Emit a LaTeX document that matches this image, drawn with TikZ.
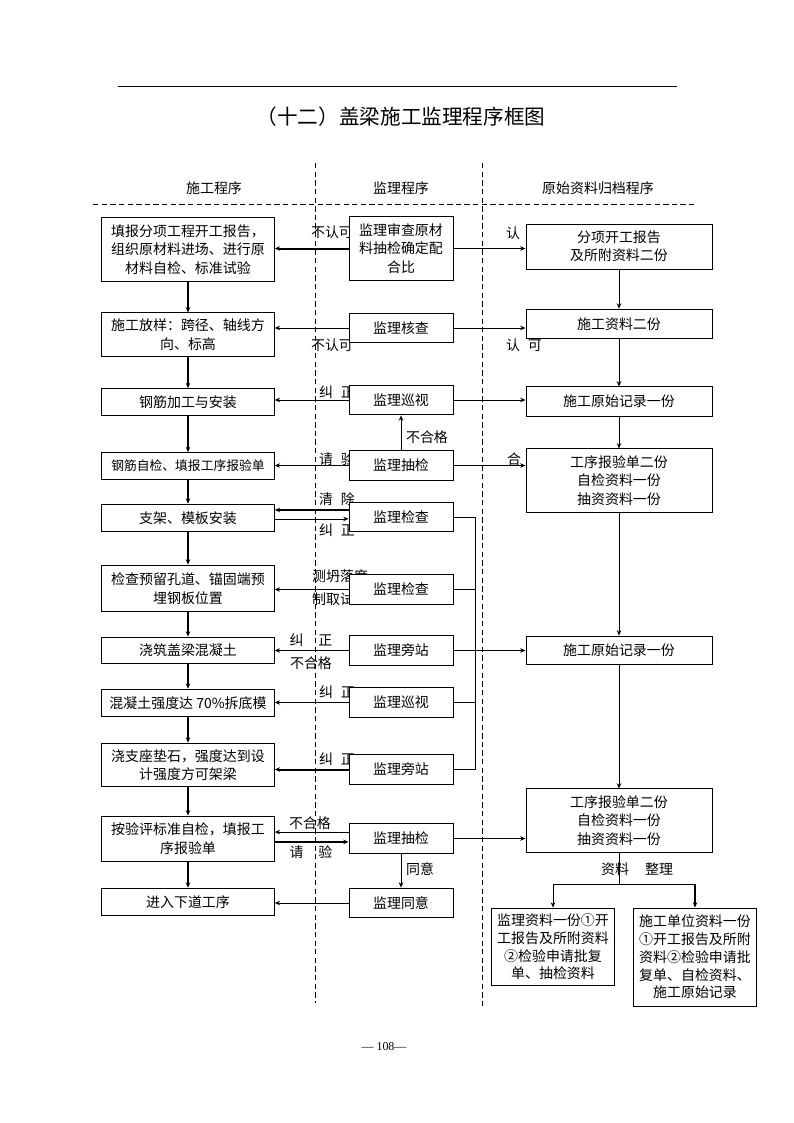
\documentclass[tikz,border=0pt]{standalone}
\usepackage{fontspec}
\setmainfont{Noto Sans CJK SC}
\newfontfamily\pagefont{Liberation Serif}
\usetikzlibrary{arrows.meta,backgrounds}

\begin{document}
\begin{tikzpicture}
  [x=0.02645cm,y=-0.02645cm,
   every node/.style={font=\fontsize{10.5}{13.8}\selectfont,inner sep=1pt},
   stepbox/.style={draw,fill=white,align=center,line width=.7pt,minimum width=4.565cm},
   jlbox/.style={draw,fill=white,align=center,line width=.7pt,minimum width=2.75cm},
   dabox/.style={draw,fill=white,align=center,line width=.7pt,minimum width=4.92cm},
   lbl/.style={inner sep=0pt},
   arr/.style={-{Stealth[length=4pt,width=3.4pt]},line width=.6pt},
   tarr/.style={arr,line width=1.5pt},
   colline/.style={line width=.6pt,dash pattern=on 4pt off 2.5pt}]
  \useasboundingbox (0,0) rectangle (794,1123);

  \draw[line width=.7pt] (118,86) -- (677,86);
  \node (title) at (401,117) [font=\fontsize{15.5}{18}\selectfont] {（十二）盖梁施工监理程序框图};
  \node (h1) at (214,188) {施工程序};
  \node (h2) at (401,188) {监理程序};
  \node (h3) at (598,188) {原始资料归档程序};

  % 施工程序
  \node[stepbox,minimum height=1.67cm] (s1) at (188,249.5) {填报分项工程开工报告，\\组织原材料进场、进行原\\材料自检、标准试验};
  \node[stepbox,minimum height=1.14cm] (s2) at (188,334.5) {施工放样：跨径、轴线方\\向、标高};
  \node[stepbox,minimum height=0.71cm] (s3) at (188,402) {钢筋加工与安装};
  \node[stepbox,minimum height=0.71cm,font=\fontsize{9.6}{12}\selectfont] (s4) at (188,466) {钢筋自检、填报工序报验单};
  \node[stepbox,minimum height=0.73cm] (s5) at (188,518) {支架、模板安装};
  \node[stepbox,minimum height=1.24cm] (s6) at (188,588.5) {检查预留孔道、锚固端预\\埋钢板位置};
  \node[stepbox,minimum height=0.71cm] (s7) at (188,650.5) {浇筑盖梁混凝土};
  \node[stepbox,minimum height=0.73cm] (s8) at (188,703) {混凝土强度达 70\%拆底模};
  \node[stepbox,minimum height=1.16cm] (s9) at (188,765) {浇支座垫石，强度达到设\\计强度方可架梁};
  \node[stepbox,minimum height=1.19cm] (s10) at (188,838.5) {按验评标准自检，填报工\\序报验单};
  \node[stepbox,minimum height=0.73cm] (s11) at (188,902) {进入下道工序};

  % 监理程序
  \node[jlbox,minimum height=1.67cm] (j1) at (401,248.5) {监理审查原材\\料抽检确定配\\合比};
  \node[jlbox,minimum height=0.79cm] (j2) at (401,328) {监理核查};
  \node[jlbox,minimum height=0.79cm] (j3) at (401,400) {监理巡视};
  \node[jlbox,minimum height=0.77cm] (j4) at (401,465.5) {监理抽检};
  \node[jlbox,minimum height=0.79cm] (j5) at (401,517) {监理检查};
  \node[jlbox,minimum height=0.77cm] (j6) at (401,589.5) {监理检查};
  \node[jlbox,minimum height=0.77cm] (j7) at (401,650.5) {监理旁站};
  \node[jlbox,minimum height=0.77cm] (j8) at (401,702.5) {监理巡视};
  \node[jlbox,minimum height=0.77cm] (j9) at (401,769.5) {监理旁站};
  \node[jlbox,minimum height=0.77cm] (j10) at (401,838.5) {监理抽检};
  \node[jlbox,minimum height=0.79cm] (j11) at (401,903) {监理同意};

  % 原始资料归档程序
  \node[dabox,minimum height=1.19cm] (y1) at (619,246.5) {分项开工报告\\及所附资料二份};
  \node[dabox,minimum height=0.79cm] (y2) at (619,324) {施工资料二份};
  \node[dabox,minimum height=0.77cm] (y3) at (619,401.5) {施工原始记录一份};
  \node[dabox,minimum height=1.67cm] (y4) at (619,480.5) {工序报验单二份\\自检资料一份\\抽资资料一份};
  \node[dabox,minimum height=0.74cm] (y5) at (619,650) {施工原始记录一份};
  \node[dabox,minimum height=1.67cm] (y6) at (619,820.5) {工序报验单二份\\自检资料一份\\抽资资料一份};
  \node[draw,fill=white,align=center,line width=.7pt,minimum width=3.23cm,minimum height=2.06cm,
        font=\fontsize{10.5}{13.3}\selectfont] (y7) at (553,947) {监理资料一份①开\\工报告及所附资料\\②检验申请批复\\单、抽检资料};
  \node[draw,fill=white,align=center,line width=.7pt,minimum width=3.23cm,minimum height=2.59cm,
        font=\fontsize{10.5}{13.3}\selectfont] (y8) at (695,957) {施工单位资料一份\\①开工报告及所附\\资料②检验申请批\\复单、自检资料、\\施工原始记录};

  \node (pg) at (384,1047) [font=\pagefont\fontsize{9}{10}\selectfont] {— 108—};

  \begin{pgfonlayer}{background}
  \draw[colline] (93,204) -- (697,204);
  \draw[colline] (315,163) -- (315,1003);
  \draw[colline] (482,163) -- (482,1008);

  \foreach \from/\to in {s1/s2,s2/s3,s3/s4,s4/s5,s5/s6,s6/s7,s7/s8,s8/s9,s9/s10,s10/s11}
    \draw[tarr] (\from) -- (\to);
  \foreach \from/\to in {y1/y2,y2/y3,y3/y4,y4/y5,y5/y6}
    \draw[arr] (\from) -- (\to);

  \foreach \from/\to in {j2/s2,j3/s3,j4/s4,j6/s6,j7/s7,j8/s8,j11/s11}
    \draw[arr] (\from.west) -- (\from.west -| \to.east);
  \foreach \from/\to in {j1/s1,j9/s9}
    \draw[tarr] (\from.west) -- (\from.west -| \to.east);
  \foreach \from/\to in {j1/y1,j2/y2,j3/y3,j4/y4,j7/y5,j10/y6}
    \draw[arr] (\from.east) -- (\from.east -| \to.west);

  \coordinate (j5a) at ([yshift=0.185cm]j5.west);
  \coordinate (j5b) at ([yshift=-0.05cm]j5.west);
  \draw[tarr] (j5a) -- (j5a -| s5.east);
  \draw[arr] (j5b -| s5.east) -- (j5b);
  \coordinate (j10a) at ([yshift=0.17cm]j10.west);
  \coordinate (j10b) at ([yshift=-0.09cm]j10.west);
  \draw[arr] (j10a) -- (j10a -| s10.east);
  \draw[tarr] (j10b -| s10.east) -- (j10b);

  \coordinate (bb) at (475,769.5);
  \draw[line width=.6pt] (j5.east) -| (bb) -- (j9.east);
  \foreach \n in {j6,j8}
    \draw[line width=.6pt] (\n.east) -- (\n.east -| bb);

  \draw[arr] (j4) -- (j3);
  \draw[arr] (j10) -- (j11);

  \coordinate (sp) at (619,884);
  \draw[line width=.6pt] (y6) -- (sp);
  \draw[arr] (sp) -| (y7);
  \draw[line width=.6pt] (sp) -- (sp -| y8);
  \draw[tarr] (sp -| y8) -- (y8);

  % labels
  \node[lbl] (l1) at (332,232) {不认可};
  \node[lbl] (l2) at (513,233) {认};
  \node[lbl] (l3) at (332,345) {不认可};
  \node[lbl] (l4) at (524,345) {认\hspace{0.55em}可};
  \node[lbl] (l5) at (337,392) {纠\hspace{0.55em}正};
  \node[lbl] (l6) at (427,437) {不合格};
  \node[lbl] (l7) at (337,459) {请\hspace{0.55em}验};
  \node[lbl] (l8) at (514,459) {合};
  \node[lbl] (l9) at (337,499) {清\hspace{0.55em}除};
  \node[lbl] (l10) at (337,530) {纠\hspace{0.55em}正};
  \node[lbl] (l11) at (340,576) {测坍落度};
  \node[lbl] (l12) at (340,599) {制取试件};
  \node[lbl] (l13) at (311,640) {纠\hspace{1.07em}正};
  \node[lbl] (l14) at (311,663) {不合格};
  \node[lbl] (l15) at (337,692) {纠\hspace{0.55em}正};
  \node[lbl] (l16) at (337,759) {纠\hspace{0.55em}正};
  \node[lbl] (l17) at (310,823) {不合格};
  \node[lbl] (l18) at (311,852) {请\hspace{1.07em}验};
  \node[lbl] (l19) at (420,869) {同意};
  \node[lbl] (l20) at (615,869) {资料};
  \node[lbl] (l21) at (659,869) {整理};
  \end{pgfonlayer}
\end{tikzpicture}
\end{document}
